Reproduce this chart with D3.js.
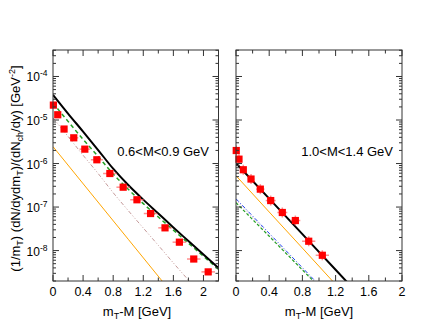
<!DOCTYPE html>
<html><head><meta charset="utf-8">
<script src="https://cdn.jsdelivr.net/npm/d3@7"></script>
<style>body{margin:0;background:#fff} text{font-family:"Liberation Sans",Arial,sans-serif;fill:#000}</style>
</head><body><svg id="c" width="430" height="332"></svg>
<script>
// ---------- data ----------
const leftLabel = "0.6<M<0.9 GeV";
const rightLabel = "1.0<M<1.4 GeV";
const xTickLabels = [0, 0.4, 0.8, 1.2, 1.6, 2];
const yTickDecades = [-4, -5, -6, -7, -8];

// left panel data points
const leftPtX = [0.005, 0.063, 0.147, 0.276, 0.423, 0.583, 0.756, 0.933, 1.116, 1.297, 1.489, 1.680, 1.871, 2.063];
const leftPtY = [2.2e-5, 1.32e-5, 6.2e-6, 3.9e-6, 2.14e-6, 1.22e-6, 5.9e-7, 2.86e-7, 1.47e-7, 7.1e-8, 3.33e-8, 1.56e-8, 6.4e-9, 3.24e-9];
const leftPtXErr = [0.02, 0.03, 0.04, 0.06, 0.07, 0.08, 0.09, 0.09, 0.09, 0.09, 0.09, 0.09, 0.09, 0.09];

// left panel curves
const leftBlackX = [0, 0.2, 0.4, 0.6, 0.8, 1.0, 1.2, 1.4, 1.6, 1.8, 2.0, 2.2];
const leftBlackY = [3.8e-5, 1.41e-5, 5.4e-6, 2.04e-6, 7.6e-7, 3.2e-7, 1.48e-7, 7.1e-8, 3.4e-8, 1.66e-8, 8.1e-9, 4.0e-9];
const leftGreenX = [0, 0.2, 0.4, 0.6, 0.8, 1.0, 1.2, 1.4, 1.6, 1.8, 2.0, 2.2];
const leftGreenY = [2.45e-5, 9.3e-6, 3.6e-6, 1.45e-6, 5.75e-7, 2.57e-7, 1.2e-7, 5.9e-8, 2.95e-8, 1.48e-8, 7.4e-9, 3.7e-9];
const leftRosyX = [0, 0.2, 0.4, 0.6, 0.8, 1.0, 1.2, 1.4, 1.6, 1.8];
const leftRosyY = [1.12e-5, 4.2e-6, 1.55e-6, 5.9e-7, 2.14e-7, 8.3e-8, 3.3e-8, 1.32e-8, 5.2e-9, 2.1e-9];
const leftOrangeX = [0, 0.5, 1.0, 1.5];
const leftOrangeY = [2.45e-6, 2.11e-7, 1.82e-8, 1.57e-9];

// right panel data points
const rightPtX = [0.003, 0.036, 0.088, 0.181, 0.293, 0.418, 0.558, 0.715, 0.876, 1.04];
const rightPtY = [1.99e-6, 1.26e-6, 7.2e-7, 4.4e-7, 2.58e-7, 1.41e-7, 7.5e-8, 4.9e-8, 1.64e-8, 7.8e-9];
const rightPtXErr = [0.02, 0.02, 0.03, 0.04, 0.05, 0.06, 0.06, 0.06, 0.08, 0.08];

// right panel curves
const rightBlackX = [0, 0.4, 0.8, 1.2, 1.4];
const rightBlackY = [1.02e-6, 1.56e-7, 2.38e-8, 3.63e-9, 1.41e-9];
const rightOrangeX = [0, 0.4, 0.8, 1.2];
const rightOrangeY = [5.25e-7, 7.7e-8, 1.14e-8, 1.67e-9];
const rightBlueX = [0, 0.4, 0.8, 1.0];
const rightBlueY = [1.55e-7, 2.5e-8, 4.04e-9, 1.62e-9];
const rightGreenX = [0, 0.4, 0.8, 1.0];
const rightGreenY = [1.26e-7, 2.13e-8, 3.6e-9, 1.48e-9];
const rightPinkX = [0, 0.4, 0.8, 1.0];
const rightPinkY = [1.45e-7, 2.3e-8, 3.6e-9, 1.5e-9];

// ---------- drawing ----------
const svg = d3.select("#c");
svg.append("rect").attr("width", 430).attr("height", 332).attr("fill", "#fff");

const plotTop = 50, plotBottom = 281;
const y = d3.scaleLog().domain([2.0e-9, 4.06e-4]).range([plotBottom, plotTop]);

function zip(xs, ys) { return xs.map((v, i) => [v, ys[i]]); }

function panel(id, x, opts) {
  const g = svg.append("g");
  const [x0, x1] = x.range();
  g.append("clipPath").attr("id", id).append("rect")
    .attr("x", x0).attr("y", plotTop).attr("width", x1 - x0).attr("height", plotBottom - plotTop);
  const plot = g.append("g").attr("clip-path", `url(#${id})`);

  const line = d3.line().x(d => x(d[0])).y(d => y(d[1])).curve(d3.curveMonotoneX);
  opts.curves.forEach(c => {
    plot.append("path").datum(zip(c.x, c.y)).attr("d", line)
      .attr("fill", "none").attr("stroke", c.color).attr("stroke-width", c.w)
      .attr("stroke-dasharray", c.dash || null);
  });

  const pts = zip(opts.px, opts.py);
  pts.forEach((p, i) => {
    const cx = x(p[0]), cy = y(p[1]);
    plot.append("line").attr("x1", x(p[0] - opts.pxe[i])).attr("x2", x(p[0] + opts.pxe[i]))
      .attr("y1", cy).attr("y2", cy).attr("stroke", "#ff6060").attr("stroke-width", 1.5).attr("opacity", 0.7);
    plot.append("line").attr("x1", cx).attr("x2", cx)
      .attr("y1", cy - opts.vy).attr("y2", cy + opts.vy).attr("stroke", "#ff6060").attr("stroke-width", 1.5).attr("opacity", 0.7);
  });
  g.append("g").selectAll("rect").data(pts).join("rect")
    .attr("x", d => x(d[0]) - 3.6).attr("y", d => y(d[1]) - 3.6)
    .attr("width", 7.2).attr("height", 7.2).attr("fill", "#ff0000");

  g.append("rect").attr("x", x0).attr("y", plotTop).attr("width", x1 - x0).attr("height", plotBottom - plotTop)
    .attr("fill", "none").attr("stroke", "#333").attr("stroke-width", 1);

  const xt = d3.range(0, x.domain()[1] + 1e-9, 0.2);
  xt.forEach(v => {
    const major = Math.abs(v / 0.4 - Math.round(v / 0.4)) < 1e-6;
    const len = major ? 6 : 3.5;
    const px = x(v);
    g.append("line").attr("x1", px).attr("x2", px).attr("y1", plotBottom).attr("y2", plotBottom - len).attr("stroke", "#333");
    g.append("line").attr("x1", px).attr("x2", px).attr("y1", plotTop).attr("y2", plotTop + len).attr("stroke", "#333");
  });
  g.selectAll("text.xl").data(xTickLabels.filter(v => v <= x.domain()[1])).join("text")
    .attr("class", "xl")
    .attr("x", d => x(d)).attr("y", 296).attr("text-anchor", "middle")
    .attr("font-size", 12.5).text(d => d3.format("~g")(d));

  y.ticks().forEach(v => {
    const lg = Math.log10(v);
    const major = Math.abs(lg - Math.round(lg)) < 1e-6;
    const len = major ? 6 : 3;
    const py = y(v);
    g.append("line").attr("x1", x0).attr("x2", x0 + len).attr("y1", py).attr("y2", py).attr("stroke", "#333");
    g.append("line").attr("x1", x1).attr("x2", x1 - len).attr("y1", py).attr("y2", py).attr("stroke", "#333");
  });

  const t = g.append("text").attr("x", opts.titleX).attr("y", 316).attr("text-anchor", "middle").attr("font-size", 13);
  t.append("tspan").text("m");
  t.append("tspan").attr("font-size", 9).attr("dy", 3).text("T");
  t.append("tspan").attr("dy", -3).text("-M [GeV]");

  g.append("text").attr("x", opts.labX).attr("y", 155.5).attr("text-anchor", "end")
    .attr("font-size", 13).text(opts.label);
  return g;
}

const xL = d3.scaleLinear().domain([0, 2.2]).range([53, 218.5]);
const xR = d3.scaleLinear().domain([0, 2]).range([236, 402]);

panel("clipL", xL, {
  px: leftPtX, py: leftPtY, pxe: leftPtXErr, vy: 2,
  curves: [
    {x: leftOrangeX, y: leftOrangeY, color: "#ffa500", w: 1},
    {x: leftRosyX, y: leftRosyY, color: "#c49a9a", w: 1, dash: "4,2,1,2,1,2"},
    {x: leftGreenX, y: leftGreenY, color: "#22a022", w: 1.5, dash: "4,3"},
    {x: leftBlackX, y: leftBlackY, color: "#000", w: 2}
  ],
  titleX: 137, labX: 209, label: leftLabel
});

panel("clipR", xR, {
  px: rightPtX, py: rightPtY, pxe: rightPtXErr, vy: 5,
  curves: [
    {x: rightPinkX, y: rightPinkY, color: "#d8b0c8", w: 1, dash: "1,2"},
    {x: rightGreenX, y: rightGreenY, color: "#22a022", w: 1.2, dash: "3,2"},
    {x: rightBlueX, y: rightBlueY, color: "#2244ee", w: 1, dash: "4,2,1,2"},
    {x: rightOrangeX, y: rightOrangeY, color: "#ffa500", w: 1},
    {x: rightBlackX, y: rightBlackY, color: "#000", w: 2}
  ],
  titleX: 319, labX: 393, label: rightLabel
});

yTickDecades.forEach(d => {
  const py = y(Math.pow(10, d));
  const t = svg.append("text").attr("x", 47.5).attr("y", py + 5).attr("text-anchor", "end").attr("font-size", 12);
  t.append("tspan").text("10");
  t.append("tspan").attr("font-size", 8.5).attr("dy", -5).text(String(d));
});

const yt = svg.append("text").attr("transform", "translate(20,168.5) rotate(-90)")
  .attr("text-anchor", "middle").attr("font-size", 13);
yt.append("tspan").text("(1/m");
yt.append("tspan").attr("font-size", 9).attr("dy", 3).text("T");
yt.append("tspan").attr("dy", -3).text(") (dN/dydm");
yt.append("tspan").attr("font-size", 9).attr("dy", 3).text("T");
yt.append("tspan").attr("dy", -3).text(")/(dN");
yt.append("tspan").attr("font-size", 9).attr("dy", 3).text("ch");
yt.append("tspan").attr("dy", -3).text("/dy) [GeV");
yt.append("tspan").attr("font-size", 9).attr("dy", -5).text("-2");
yt.append("tspan").attr("dy", 5).text("]");
</script>
</body></html>
